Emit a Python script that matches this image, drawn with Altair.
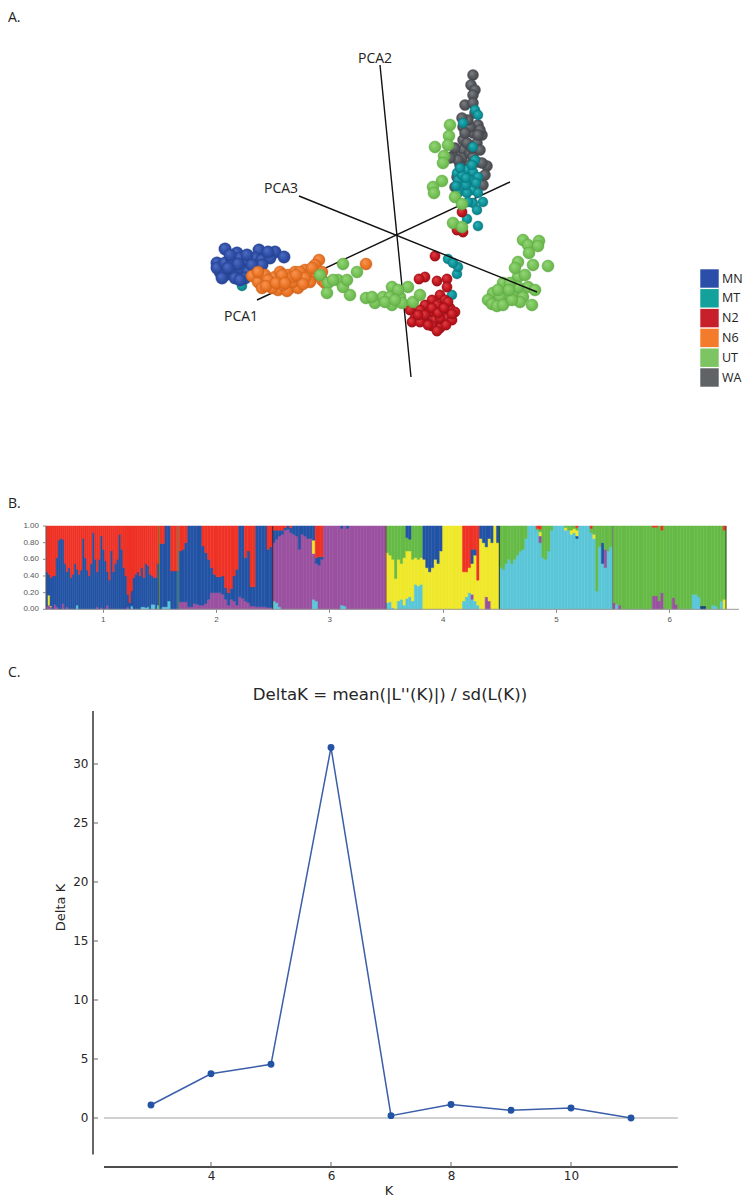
import altair as alt
import pandas as pd

# ---------- Panel A: PCA projection (positions) ----------
WA_X = [473,471,475,473,465,473,475,463,478,482,463,473,477,463,453,462,470,477,487,482,457,455,483,467,470,473,480,465,468,478,460,470,458,455,462,472,480,450,485,475]
WA_Y = [75,85,90,95,105,103,113,127,125,135,140,133,143,150,156,158,153,162,166,163,177,187,185,143,127,157,130,133,120,135,165,165,160,148,118,148,150,158,175,178]
MT_X = [475,463,478,473,475,457,467,473,478,458,463,473,478,483,473,477,467,478,458,467,468,452,457,458,448,453,242,462,470,466,460,472,476,456,466]
MT_Y = [110,123,115,147,160,173,170,172,177,180,187,190,193,202,203,210,219,226,193,193,202,295,274,267,259,263,286,175,180,185,168,165,183,186,178]
N2_X = [462,463,457,435,425,419,437,447,447,440,445,432,425,437,450,420,430,443,455,410,415,425,435,447,452,412,420,432,440,446,437,425,440,448,432,428,418,438,452,444]
N2_Y = [212,232,230,256,277,279,281,279,287,295,300,300,305,305,308,310,312,312,312,310,318,320,320,318,320,322,322,326,328,325,331,315,318,302,308,325,315,313,314,308]
N6_X = [366,319,252,258,265,270,262,275,280,285,290,288,295,300,298,305,310,315,317,322,310,278,268,287,300,283,322,325,293,305,258,272,266,282,276,293,303,312,296,285]
N6_Y = [264,260,276,282,275,283,288,277,272,280,288,275,272,280,288,270,275,265,275,272,282,290,280,291,272,285,280,283,282,278,272,288,286,275,283,277,284,268,275,283]
MN_X = [225,237,259,275,284,217,220,217,225,232,240,248,255,262,270,225,232,240,248,255,222,235,245,240,262,230,247,238,252,268,228]
MN_Y = [249,253,250,252,257,263,272,268,263,260,258,262,258,260,258,275,270,268,272,267,278,278,278,280,265,255,255,264,265,252,268]
UT_X = [450,449,448,435,444,443,442,433,434,455,462,453,462,
        343,357,320,338,328,327,350,343,347,366,375,383,392,408,390,400,392,402,413,420,385,398,333,372,395,
        523,539,528,538,529,518,533,548,518,503,493,488,497,505,513,523,532,528,518,500,510,498,520,492,497,503,512,525,515,535,509]
UT_Y = [125,136,145,147,156,163,181,187,193,197,204,223,227,
        264,272,275,280,283,293,295,287,280,298,303,297,287,287,297,297,305,303,302,295,302,290,280,297,300,
        240,241,245,246,253,262,265,266,277,283,293,300,303,297,293,297,305,287,287,297,283,290,302,304,306,305,300,275,268,290,290]

GROUPS = ["MN", "MT", "N2", "N6", "UT", "WA"]
LEGEND_COLORS = ["#2B4FA8", "#13A19B", "#C8202B", "#F47A2C", "#7DC562", "#5F6366"]
AXIS_NAMES = ["PCA1", "PCA1", "PCA2", "PCA2", "PCA3", "PCA3"]
AXIS_X = [257, 510, 380, 411, 299, 537]
AXIS_Y = [300, 182, 65, 377, 196, 292]
LABELS = ["PCA2", "PCA3", "PCA1"]
LABEL_X = [375, 281, 241]
LABEL_Y = [59, 189, 317]

# ---------- Panel B: STRUCTURE barplot (cumulative tops, bottom to top) ----------
RED, BLUE, PURPLE, YELLOW, CYAN, GREEN, NAVY = "#EE3226", "#2353A4", "#9A51A0", "#EFE82B", "#5BC6D8", "#66BB46", "#17407F"

P1_BLUE = [.45,.42,.38,.40,.40,.62,.83,.85,.84,.55,.45,.50,.38,.42,.55,.48,.42,.47,.85,.62,.47,.40,.55,.92,.60,.45,.60,.88,
           .72,.58,.45,.35,.70,.45,.55,.60,.90,.72,.50,.40,.18,.08,.22,.38,.42,.45,.40,.50,.38,.55,.52,.42,.40,.38,.38,.55]
P1_CYAN = {15:.05,42:.04,47:.03,48:.03,49:.02,50:.03,52:.06,53:.06,55:.05}
P1_PURPLE = {0:.04,1:.05,2:.03,4:.06,5:.03,8:.07,10:.03,25:.03,27:.02,30:.05,40:.03}
P1_YELLOW = {1:.17,2:.04}

P2_CYAN = {1:.03,2:.03,3:.10}
P2_PURPLE = [0,.03,.03,.10,0,0,0,.09,.09,.09,.03,.03,.07,.06,.05,.05,.07,.12,.2,.2,.2,.2,.18,.12,.05,.12,.1,.05,.15,.13,.1,.08,.04,.04,.03,.03,.03,.03,.02,.02]
P2_BLUE = [.79,.79,1,1,.46,.46,.46,.7,.72,.8,1,1,1,1,1,.76,.68,.6,.5,.42,.39,.39,.4,.26,.2,.25,.4,.48,1,1,.62,.7,.27,.27,1,1,1,1,.72,.75]

P3_CYAN = {0:.1,1:.08,2:.03,14:.12,15:.1,24:.05,25:.04}
P3_PURPLE = [.8,.84,.88,.9,.95,.96,.92,.9,.88,.72,.9,.88,.85,.85,.67,.55,.53,.6,1,1,1,1,1,1,.97,1,.97,1,1,1,1,1,1,1,1,1,1,1,1,1]
P3_YELLOW = {14:.83}
P3_BLUE = {0:.95,1:.95,2:.95,3:.95,4:.98,5:1,6:.98,7:1,8:1,9:1,10:1,11:1,12:1,13:1,14:1,15:.62,16:.63,17:.63,24:1,26:1}

P4_CYAN = [.08,.09,.02,0,.1,.12,.05,.13,.15,.1,.3,.28,.3,0,0,0,0,0,0,0,0,0,0,0,0,0,0,.1,.15,.2,.12,.1,.05,0,0,0,0,0,0,0]
P4_PURPLE = {30:.18,35:.15,36:.1}
P4_YELLOW = [.68,.65,.6,.37,.6,.55,.62,.7,.7,.6,.62,.6,.62,.6,.5,.45,.5,.6,.55,.7,1,1,1,1,1,1,1,.45,.45,.5,.55,.65,.35,.85,.8,.75,.85,.8,1,.8]
P4_GREEN = {7:.86,8:.84}
P4_BLUE = {7:1,8:1,13:1,14:1,15:1,16:1,17:1,18:1,19:1,30:.72,31:.72,33:1,34:1,35:1,36:1,37:1,39:1}
P4_RED = {27:1,28:1,29:1,30:1,31:1,32:1}

P5_CYAN = [.5,.48,.55,.6,.55,.6,.65,.7,.72,.85,1,1,1,.95,.8,.62,.6,.7,.95,1,1,1,1,.95,.95,.9,.92,.85,1,1,1,1,.92,.85,.22,.75,.55,.5,.7,.75]
P5_BLUE = {27:.88,36:.8}
P5_PURPLE = {14:.88,37:.72}
P5_YELLOW = {14:.93,23:.98,25:.95,26:.97,27:.95,33:.9}
P5_GREEN = {13:.97,14:.96,27:.98,32:.97}
P5_RED = {13:1,14:1,27:1,32:1}

P6_CYAN = {1:.06,28:.18,29:.18,30:.15,35:.05,36:.04,38:.1}
P6_NAVY = {31:.04,32:.04}
P6_PURPLE = {0:.08,2:.05,14:.16,15:.16,16:.1,17:.2,21:.14,22:.06}
P6_YELLOW = {39:.12}
P6_GREEN = {14:.985,15:.985,17:.95,39:.95}
P6_RED = {14:1,15:1,17:1,39:1}

POPS = [
    (1, 56, [(CYAN, P1_CYAN), (PURPLE, P1_PURPLE), (YELLOW, P1_YELLOW), (BLUE, P1_BLUE)], RED),
    (2, 40, [(CYAN, P2_CYAN), (PURPLE, P2_PURPLE), (BLUE, P2_BLUE)], RED),
    (3, 40, [(CYAN, P3_CYAN), (PURPLE, P3_PURPLE), (YELLOW, P3_YELLOW), (BLUE, P3_BLUE)], RED),
    (4, 40, [(CYAN, P4_CYAN), (PURPLE, P4_PURPLE), (YELLOW, P4_YELLOW), (GREEN, P4_GREEN), (BLUE, P4_BLUE), (RED, P4_RED)], GREEN),
    (5, 40, [(CYAN, P5_CYAN), (BLUE, P5_BLUE), (PURPLE, P5_PURPLE), (YELLOW, P5_YELLOW), (GREEN, P5_GREEN), (RED, P5_RED)], GREEN),
    (6, 40, [(CYAN, P6_CYAN), (NAVY, P6_NAVY), (PURPLE, P6_PURPLE), (YELLOW, P6_YELLOW), (GREEN, P6_GREEN), (RED, P6_RED)], GREEN),
]
BOUND_X = [1.5, 1.665, 2.5, 3.5, 4.5, 5.5, 6.5]
BOUND_C = ["#6F8A28", "#55A050", "#3A2A3A", "#7A3A4A", "#2A3A2A", "#7A7A7A", "#2F4A2A"]
STRUCT_Y_TICKS = [0, .2, .4, .6, .8, 1]
STRUCT_X_TICKS = [1, 2, 3, 4, 5, 6]

# ---------- Panel C: Delta K ----------
K = [3, 4, 5, 6, 7, 8, 9, 10, 11]
DELTA_K = [1.1, 3.75, 4.55, 31.4, 0.2, 1.15, 0.65, 0.85, 0.0]
K_TICKS = [4, 6, 8, 10]
D_TICKS = [0, 5, 10, 15, 20, 25, 30]

FONT = "Open Sans"
DJ = "DejaVu Sans"

def panel_label(txt, py):
    return alt.Chart(pd.DataFrame({"t": [txt]})).mark_text(
        align="left", baseline="top", font=FONT, fontSize=14, color="#222"
    ).encode(x=alt.value(0), y=alt.value(py), text="t:N")

# --- A
xa = alt.X("x:Q", scale=alt.Scale(domain=[8, 744], nice=False, zero=False), axis=None)
ya = alt.Y("y:Q", scale=alt.Scale(domain=[480, 8], nice=False, zero=False), axis=None)

def sphere(xs, ys, hi, mid, lo, r):
    grad = {"gradient": "radial", "x1": .36, "y1": .32, "r1": 0, "x2": .5, "y2": .5, "r2": .62,
            "stops": [{"offset": 0, "color": hi}, {"offset": .55, "color": mid}, {"offset": 1, "color": lo}]}
    return alt.Chart(pd.DataFrame({"x": xs, "y": ys})).mark_circle(
        fill=grad, size=3.14 * r * r, opacity=1, stroke=lo, strokeWidth=.4
    ).encode(x=xa, y=ya)

all_pts = pd.concat([
    pd.DataFrame({"x": xs, "y": ys, "g": g}) for g, xs, ys in
    [("MN", MN_X, MN_Y), ("MT", MT_X, MT_Y), ("N2", N2_X, N2_Y), ("N6", N6_X, N6_Y), ("UT", UT_X, UT_Y), ("WA", WA_X, WA_Y)]
])
legend = alt.Legend(
    title=None, orient="none", legendX=692, legendY=261, symbolType="square", symbolSize=340,
    symbolStrokeWidth=0, labelFont=FONT, labelFontSize=12.5, labelColor="#222", labelOffset=3,
    rowPadding=0.8, padding=0, symbolOpacity=1,
)
base_pts = alt.Chart(all_pts).mark_circle(size=60, opacity=1).encode(
    x=xa, y=ya,
    color=alt.Color("g:N", scale=alt.Scale(domain=GROUPS, range=LEGEND_COLORS), legend=legend),
)
axes_df = pd.DataFrame({"a": AXIS_NAMES, "x": AXIS_X, "y": AXIS_Y})
axes_under = alt.Chart(axes_df[axes_df.a != "PCA3"]).mark_line(color="#111", strokeWidth=1.4).encode(x=xa, y=ya, detail="a:N")
axes_over = alt.Chart(axes_df[axes_df.a == "PCA3"]).mark_line(color="#111", strokeWidth=1.4).encode(x=xa, y=ya, detail="a:N")
pca_text = alt.Chart(pd.DataFrame({"x": LABEL_X, "y": LABEL_Y, "t": LABELS})).mark_text(
    font=FONT, fontSize=14, color="#222").encode(x=xa, y=ya, text="t:N")

panel_a = alt.layer(
    axes_under, base_pts,
    sphere(WA_X, WA_Y, "#7E8286", "#55585C", "#3E4044", 6.2),
    sphere(MT_X, MT_Y, "#2FB3B8", "#0E939A", "#0A7078", 5.6),
    sphere(N2_X, N2_Y, "#E0454A", "#C4161F", "#8E0F16", 5.8),
    sphere(MN_X, MN_Y, "#4E6FC4", "#2F4FA8", "#243E88", 7.0),
    sphere(N6_X, N6_Y, "#F7975A", "#EC7626", "#C85E18", 6.8),
    sphere(UT_X, UT_Y, "#95D67A", "#76C257", "#5CA642", 6.8),
    axes_over, pca_text, panel_label("A.", 3),
).properties(width=736, height=472)

# --- B
rows = []
for pop, n, layers, fill in POPS:
    for i in range(n):
        prev = 0.0
        x0 = pop - .5 + i / n
        x1 = pop - .5 + (i + 1) / n
        for color, tops in layers:
            t = tops[i] if isinstance(tops, list) else tops.get(i, 0)
            if t > prev:
                rows.append({"x0": x0, "x1": x1, "y0": prev, "y1": t, "c": color})
                prev = t
        if prev < 1:
            rows.append({"x0": x0, "x1": x1, "y0": prev, "y1": 1.0, "c": fill})
bars = pd.DataFrame(rows)

xb_s = alt.Scale(domain=[0.5 - 38 / 113.33, 6.5 + 18 / 113.33], nice=False, zero=False)
yb_s = alt.Scale(domain=[-30.7 / 83.3, 1 + 46 / 83.3], nice=False, zero=False)
struct = alt.Chart(bars).mark_rect(strokeWidth=.5).encode(
    x=alt.X("x0:Q", scale=xb_s, axis=alt.Axis(
        values=STRUCT_X_TICKS, title=None, domain=False, grid=False, offset=-30.7, tickSize=3, tickColor="#888",
        labelFont="Liberation Sans", labelFontSize=8, labelColor="#555", labelPadding=3, format="d",
        labelFlush=False, labelOverlap=False)),
    x2="x1:Q",
    y=alt.Y("y0:Q", scale=yb_s, axis=None),
    y2="y1:Q",
    color=alt.Color("c:N", scale=None, legend=None),
    stroke=alt.Stroke("c:N", scale=None, legend=None),
)
y_labels = alt.Chart(pd.DataFrame({"v": STRUCT_Y_TICKS})).mark_text(
    font="Liberation Sans", fontSize=8, color="#555", align="right"
).encode(x=alt.value(31), y=alt.Y("v:Q", scale=yb_s), text=alt.Text("v:Q", format=".2f"))
y_tickmarks = alt.Chart(pd.DataFrame({"v": STRUCT_Y_TICKS})).mark_rule(color="#888", strokeWidth=1).encode(
    x=alt.value(35), x2=alt.value(38), y=alt.Y("v:Q", scale=yb_s))
bounds = alt.Chart(pd.DataFrame({"x": BOUND_X, "c": BOUND_C, "y0": [0] * 7, "y1": [1] * 7})).mark_rule(strokeWidth=1).encode(
    x=alt.X("x:Q", scale=xb_s), y=alt.Y("y0:Q", scale=yb_s), y2="y1:Q", color=alt.Color("c:N", scale=None, legend=None))
base_line = alt.Chart(pd.DataFrame({"x0": [0.5], "x1": [6.615], "y": [0]})).mark_rule(color="#999", strokeWidth=1).encode(
    x=alt.X("x0:Q", scale=xb_s), x2="x1:Q", y=alt.Y("y:Q", scale=yb_s))
left_line = alt.Chart(pd.DataFrame({"x": [0.5], "y0": [0], "y1": [1]})).mark_rule(color="#555", strokeWidth=.8).encode(
    x=alt.X("x:Q", scale=xb_s), y=alt.Y("y0:Q", scale=yb_s), y2="y1:Q")
panel_b = alt.layer(struct, bounds, base_line, left_line, y_labels, y_tickmarks, panel_label("B.", 17)).properties(width=736, height=160)

# --- C
C_H = 551
xc_s = alt.Scale(domain=[0.617, 12.883], nice=False, zero=False)
yc_s = alt.Scale(domain=[(1118 - 640 - C_H) / 11.8, 40.508], nice=False, zero=False)
xc = alt.X("K:Q", scale=xc_s, axis=alt.Axis(
    values=K_TICKS, title=None, domain=False, ticks=False, grid=False, offset=-24, labelPadding=3,
    labelFont=DJ, labelFontSize=12, labelColor="#262626", format="d", labelFlush=False))
yc = alt.Y("D:Q", scale=yc_s, axis=alt.Axis(
    values=D_TICKS, title="Delta K", domain=False, ticks=False, grid=False, offset=-85, labelPadding=5,
    labelFont=DJ, labelFontSize=12, labelColor="#262626", titleFont=DJ, titleFontSize=13, titleFontWeight="normal",
    titleColor="#262626", titleX=-33, titleY=267, titleBaseline="middle", format="d", labelFlush=False))
dk = pd.DataFrame({"K": K, "D": DELTA_K})
zero = alt.Chart(pd.DataFrame({"K": [2.217], "K2": [11.78], "D": [0]})).mark_rule(color="#D0D0D0", strokeWidth=2).encode(
    x=alt.X("K:Q", scale=xc_s), x2="K2:Q", y=alt.Y("D:Q", scale=yc_s))
line = alt.Chart(dk).mark_line(color="#3A5EA8", strokeWidth=1.5).encode(x=xc, y=yc)
pts = alt.Chart(dk).mark_circle(color="#2353A5", size=48, opacity=1).encode(x=alt.X("K:Q", scale=xc_s), y=alt.Y("D:Q", scale=yc_s))
y_line = alt.Chart(pd.DataFrame({"a": [-3.1], "b": [34.5]})).mark_rule(color="#666", strokeWidth=2).encode(
    x=alt.value(85), y=alt.Y("a:Q", scale=yc_s), y2="b:Q")
x_line = alt.Chart(pd.DataFrame({"a": [2.217], "b": [11.78]})).mark_rule(color="#111", strokeWidth=1.3).encode(
    x=alt.X("a:Q", scale=xc_s), x2="b:Q", y=alt.value(527))
y_ticks = alt.Chart(pd.DataFrame({"D": D_TICKS})).mark_rule(color="#666", strokeWidth=1).encode(
    x=alt.value(85), x2=alt.value(90), y=alt.Y("D:Q", scale=yc_s))
x_ticks = alt.Chart(pd.DataFrame({"K": K_TICKS})).mark_rule(color="#666", strokeWidth=1).encode(
    x=alt.X("K:Q", scale=xc_s), y=alt.value(522), y2=alt.value(527))
title = alt.Chart(pd.DataFrame({"t": ["DeltaK = mean(|L''(K)|) / sd(L(K))"]})).mark_text(
    font=DJ, fontSize=16.6, color="#262626").encode(x=alt.value(382), y=alt.value(55), text="t:N")
k_title = alt.Chart(pd.DataFrame({"t": ["K"]})).mark_text(
    font=DJ, fontSize=13, color="#262626", baseline="middle").encode(x=alt.value(381), y=alt.value(551), text="t:N")
panel_c = alt.layer(zero, line, pts, y_line, x_line, y_ticks, x_ticks, title, k_title, panel_label("C.", 26)).properties(width=736, height=C_H)

chart = alt.vconcat(panel_a, panel_b, panel_c, spacing=0, bounds="flush").properties(padding=0).configure_view(strokeWidth=0)
chart.save("out.html", embed_options={"renderer": "svg", "actions": False})
